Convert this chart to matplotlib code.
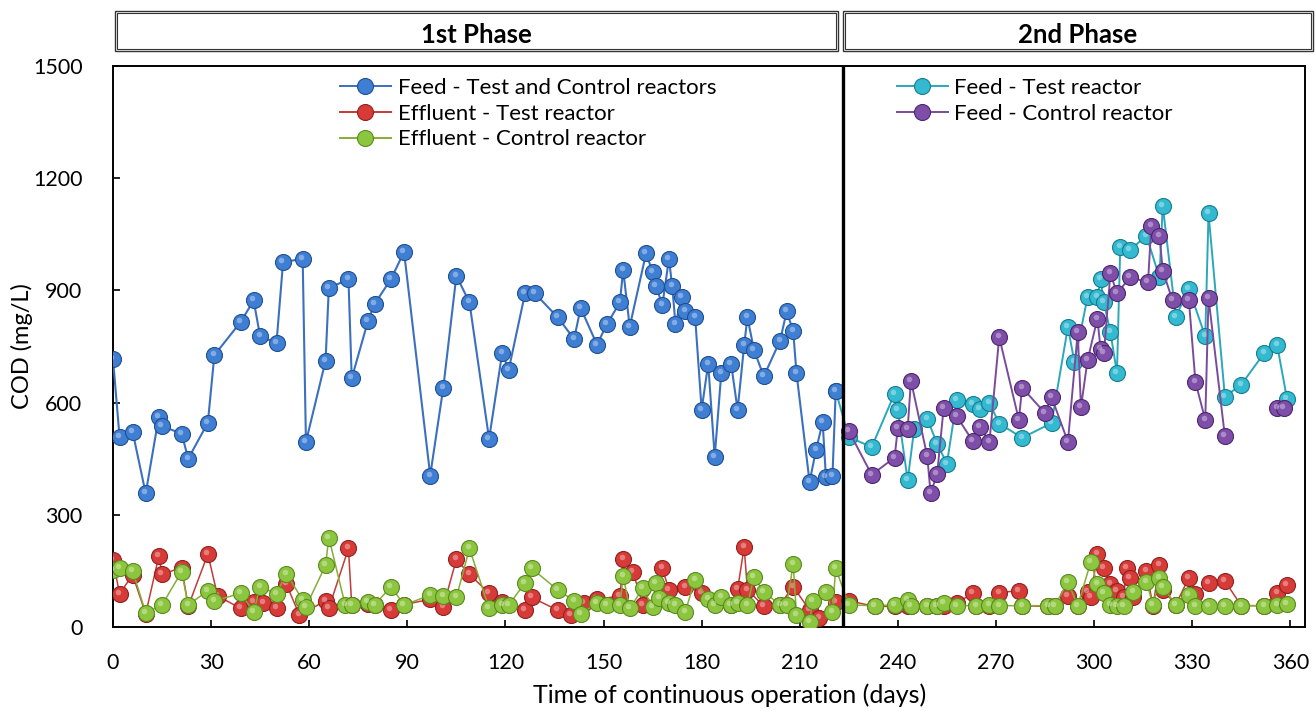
import matplotlib
matplotlib.use("Agg")
import matplotlib.pyplot as plt
import numpy as np
from matplotlib.patches import Rectangle
from matplotlib.transforms import offset_copy
from matplotlib.lines import Line2D


# ----------------- data -----------------
feed_days = [0, 2, 6, 10, 14, 15, 21, 23, 29, 31, 39, 43, 45, 50, 52, 58, 59, 65, 66, 72,
             73, 78, 80, 85, 89, 97, 101, 105, 109, 115, 119, 121, 126, 129, 136, 141, 143, 148, 151, 155,
             156, 158, 163, 165, 166, 168, 170, 171, 172, 174, 175, 178, 180, 182, 184, 186, 189, 191, 193, 194,
             196, 199, 204, 206, 208, 209, 213, 215, 217, 218, 220, 221]
feed_cod = [717, 508, 522, 357, 562, 537, 517, 450, 546, 727, 815, 873, 777, 760, 975, 985, 495, 712, 906, 930,
            665, 819, 864, 930, 1003, 405, 640, 939, 868, 503, 732, 688, 892, 892, 828, 770, 853, 755, 809, 868,
            955, 803, 999, 950, 911, 862, 984, 911, 810, 883, 846, 830, 581, 704, 455, 679, 704, 581, 753, 828,
            741, 670, 766, 844, 791, 679, 388, 474, 548, 401, 403, 631]

test_days = [221, 225, 232, 239, 240, 243, 245, 249, 252, 255, 258, 263, 265, 268, 271, 278, 287, 292, 294, 298,
             301, 302, 303, 305, 307, 308, 311, 316, 320, 321, 325, 329, 334, 335, 340, 345, 352, 356, 359]
test_cod = [631, 508, 481, 624, 579, 392, 530, 557, 490, 437, 608, 595, 583, 599, 544, 506, 545, 802, 708, 882,
            882, 930, 868, 788, 679, 1015, 1008, 1046, 935, 1126, 830, 904, 777, 1106, 616, 648, 732, 753, 610]

ctrl_days = [225, 232, 239, 240, 243, 244, 249, 250, 252, 254, 258, 263, 265, 268, 271, 277, 278, 285, 287, 292,
             295, 296, 298, 301, 302, 303, 305, 307, 311, 316.5, 317.5, 320, 321, 324, 329, 331, 334, 335, 340, 348,
             356, 358]
ctrl_cod = [524, 407, 453, 533, 530, 659, 456, 358, 408, 585, 563, 496, 536, 495, 775, 554, 640, 572, 615, 495,
            788, 588, 713, 824, 744, 732, 946, 892, 935, 922, 1073, 1046, 953, 873, 873, 655, 554, 880, 510, np.nan,
            586, 586]

eff_test_days = [0, 2, 6, 10, 14, 15, 21, 23, 29, 32, 39, 43, 46, 50, 53, 57, 65, 66, 72, 73,
                 78, 80, 85, 89, 97, 101, 105, 109, 115, 119, 126, 128, 136, 140, 144, 148, 155, 156, 159, 162,
                 168, 170, 175, 180, 184, 189, 191, 193, 194, 199, 204, 208, 213, 216, 221,
                 225, 233, 239, 243, 244, 249, 252, 254, 258, 263, 264, 268, 271, 277, 278, 286, 288, 292, 295, 298,
                 299, 301, 303, 305, 307, 309, 310, 311, 312, 316, 318, 320, 321, 325, 329, 331, 335, 340, 345, 352,
                 356, 359]
eff_test_cod = [180, 88, 140, 35, 189, 141, 159, 55, 195, 83, 50, 68, 63, 50, 115, 32, 70, 50, 210, 59,
                62, 58, 45, 60, 74, 54, 181, 141, 90, 68, 45, 79, 45, 32, 63, 74, 83, 181, 148, 59,
                157, 99, 108, 92, 62, 60, 101, 214, 99, 56, 60, 108, 45, 23, 68,
                70, 55, 55, 55, 55, 55, 55, 55, 63, 92, 57, 57, 92, 97, 57, 55, 57, 83, 57, 94,
                80, 195, 157, 115, 97, 80, 157, 130, 80, 150, 57, 165, 100, 60, 132, 88, 118, 123, 57, 57,
                92, 112]

eff_ctrl_days = [0, 2, 6, 10, 15, 21, 23, 29, 31, 39, 43, 45, 50, 53, 58, 59, 65, 66, 71, 73,
                 78, 80, 85, 89, 97, 101, 105, 109, 115, 119, 121, 126, 128, 136, 141, 143, 148, 151, 155, 156,
                 158, 162, 165, 166, 167, 170, 172, 175, 178, 182, 184, 186, 189, 191, 194, 196, 199, 204, 206, 208,
                 209, 213, 214, 218, 220, 221,
                 225, 233, 239, 243, 244, 249, 252, 254, 258, 264, 268, 271, 278, 286, 288, 292, 295, 299, 301, 303,
                 305, 307, 309, 312, 316, 318, 320, 321, 325, 329, 331, 335, 340, 345, 352, 356, 359]
eff_ctrl_cod = [152, 157, 150, 38, 59, 148, 59, 97, 70, 90, 41, 108, 88, 143, 72, 54, 165, 239, 59, 59,
                68, 59, 108, 59, 85, 83, 79, 210, 50, 59, 59, 118, 157, 99, 70, 35, 63, 59, 59, 136,
                50, 103, 54, 118, 77, 63, 59, 41, 127, 74, 59, 79, 59, 63, 59, 134, 94, 59, 59, 168,
                32, 14, 70, 94, 41, 157,
                59, 57, 59, 72, 57, 57, 57, 63, 57, 57, 59, 57, 57, 57, 57, 121, 57, 174, 115, 90,
                59, 57, 57, 94, 121, 59, 130, 108, 59, 85, 57, 57, 57, 57, 57, 59, 61]

phase_split = 223.3
x_ticks = list(range(0, 361, 30))
y_ticks = list(range(0, 1501, 300))

plt.rcParams["font.family"] = ["Lato", "DejaVu Sans"]

# series styles: (line colour, marker face, marker edge)
STYLE = {
    "feed": ("#3b6fbf", "#3f7fd3", "#1f4f93"),
    "test": ("#2aa7bb", "#33b9d0", "#177d90"),
    "ctrl": ("#7a4b9c", "#7e4ea8", "#4c2670"),
    "eff_test": ("#c23b36", "#d63b38", "#93201e"),
    "eff_ctrl": ("#86ad35", "#8cc63f", "#5b8a20"),
}

fig = plt.figure(figsize=(13.16, 7.11), dpi=100)
ax = fig.add_axes([113 / 1316, 1 - 627 / 711, (1305 - 113) / 1316, (627 - 66) / 711])
hl = offset_copy(ax.transData, fig=fig, x=-1.6, y=2.0, units="dots")


def draw(days, vals, key, lw, z):
    lc, fc, ec = STYLE[key]
    ax.plot(days, vals, color=lc, lw=lw, marker="o", ms=11.5, mfc=fc, mec=ec, mew=0.8, zorder=z)
    # small glossy highlight, like the excel 3d markers
    ax.plot(days, vals, ls="none", marker="o", ms=4, mfc="white", mec="none", alpha=0.35,
            transform=hl, zorder=z + 0.1)


draw(test_days, test_cod, "test", 1.4, 3)
draw(ctrl_days, ctrl_cod, "ctrl", 1.4, 4)
draw(feed_days, feed_cod, "feed", 1.5, 5)
draw(eff_test_days, eff_test_cod, "eff_test", 1.1, 6)
draw(eff_ctrl_days, eff_ctrl_cod, "eff_ctrl", 1.1, 7)

ax.axvline(phase_split, color="black", lw=2.4, zorder=8)

ax.set_xlim(0, 364.5)
ax.set_ylim(0, 1500)
ax.set_xticks(x_ticks)
ax.set_yticks(y_ticks)
ax.tick_params(direction="in", length=5, width=1.2, labelsize=15.5, color="black")
ax.tick_params(axis="y", pad=22)
ax.tick_params(axis="x", pad=19)
for s in ax.spines.values():
    s.set_linewidth(1.4)

ax.set_xlabel("Time of continuous operation (days)", fontsize=18)
ax.xaxis.set_label_coords((730 - 113) / 1192, -(695 - 627) / 561)
ax.set_ylabel("COD (mg/L)", fontsize=17)
ax.yaxis.set_label_coords(-(113 - 22) / 1192, 0.5)
ax.xaxis.label.set_va("center")
ax.yaxis.label.set_va("center")


def handle(key):
    lc, fc, ec = STYLE[key]
    return Line2D([], [], color=lc, lw=1.4, marker="o", ms=11.5, mfc=fc, mec=ec, mew=0.8)


leg_kw = dict(loc="upper left", frameon=False, fontsize=16, handlelength=2.3,
              handletextpad=0.3, labelspacing=0.25, borderpad=0)
leg1 = ax.legend([handle("feed"), handle("eff_test"), handle("eff_ctrl")],
                 ["Feed - Test and Control reactors", "Effluent - Test reactor", "Effluent - Control reactor"],
                 bbox_to_anchor=(0.181, 0.998), **leg_kw)
ax.add_artist(leg1)
ax.legend([handle("test"), handle("ctrl")], ["Feed - Test reactor", "Feed - Control reactor"],
          bbox_to_anchor=(0.648, 0.998), **leg_kw)

# phase header boxes (figure pixels -> fractions)
W, H = 1316, 711
for x0, x1, label in [(115, 838, "1st Phase"), (843, 1313, "2nd Phase")]:
    for inset, lw in [(0, 1.0), (2, 0.8)]:
        fig.patches.append(Rectangle(((x0 + inset) / W, 1 - (51 - inset) / H),
                                     (x1 - x0 - 2 * inset) / W, (40 - 2 * inset) / H,
                                     transform=fig.transFigure, fill=False, ec="#333333", lw=lw))
    fig.text((x0 + x1) / 2 / W, 1 - 35 / H, label, ha="center", va="center",
             fontsize=18.5, fontweight="bold")

plt.savefig("out.png", dpi=100)
plt.close()
